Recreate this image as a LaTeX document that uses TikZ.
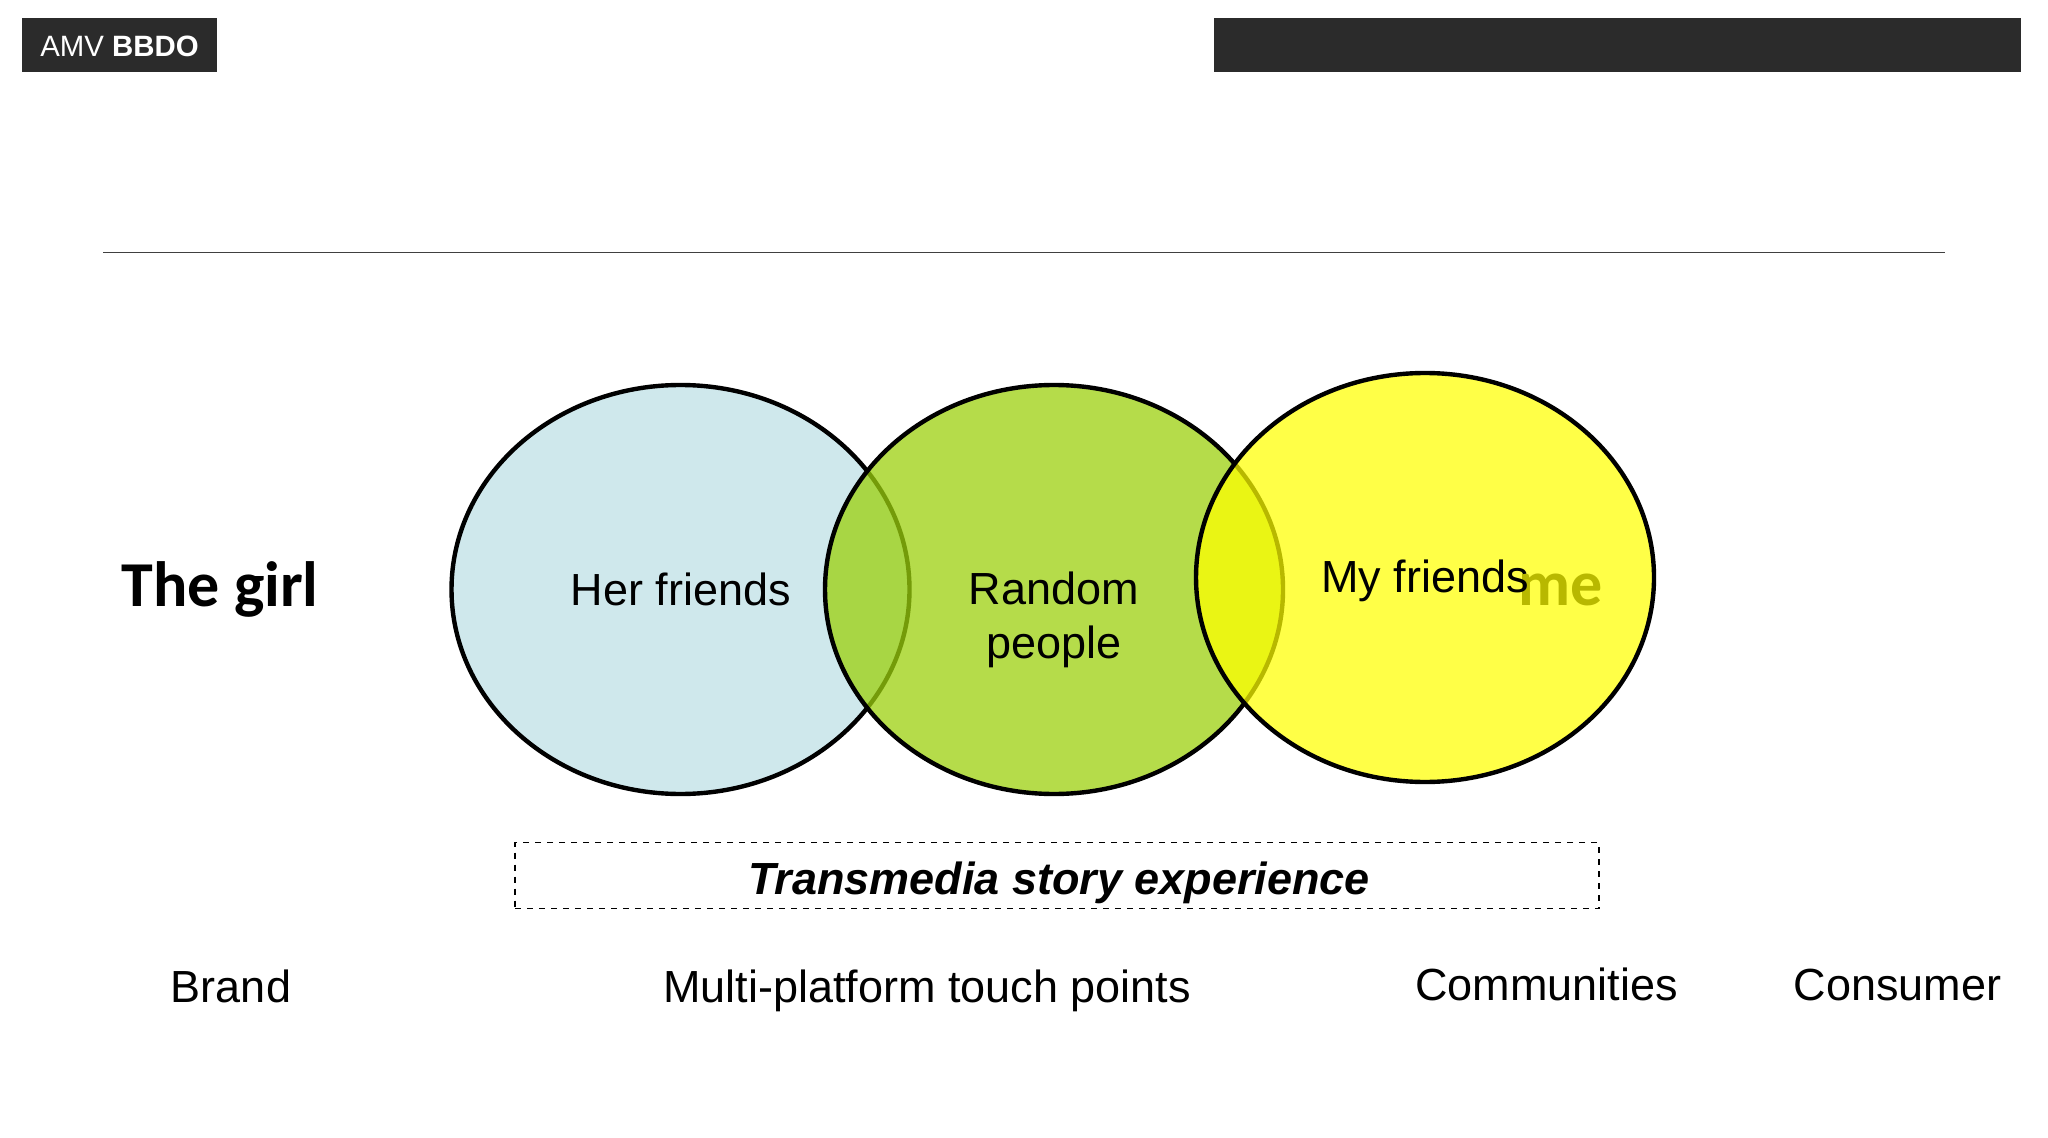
\documentclass[tikz,border=0pt]{standalone}
\usepackage{fontspec}
\usepackage{xcolor}
\usetikzlibrary{shapes.geometric}
\setmainfont{Liberation Sans}
\newfontfamily\carlitofont{Carlito}
\definecolor{barcol}{HTML}{2B2B2B}
\definecolor{herfill}{HTML}{CFE8EC}
\definecolor{randomfill}{HTML}{9CD00D}
\definecolor{myfill}{HTML}{FFFF00}
\newcommand{\sz}[1]{\fontsize{#1}{27}\selectfont}
\begin{document}
\begin{tikzpicture}[x=0.5pt, y=-0.5pt, thick,
    venn/.style = {draw=black, ellipse, line width=2.2pt, inner sep=0pt, minimum width=229pt, minimum height=204.5pt},
    bar/.style = {fill=barcol, inner sep=0pt, minimum height=27pt},
    label/.style = {inner sep=0pt, font=\sz{22.5}}]

    \useasboundingbox (0,0) rectangle (2048,1138);

    \node[bar, minimum width=97.5pt] (logo) at (119.5,45) {};
    \node[text=white, inner sep=0pt, font=\sz{14.7}] (logotext) at (119.5,46) {AMV \textbf{BBDO}};
    \node[bar, minimum width=403.5pt] (blackbar) at (1617,45) {};

    \coordinate (ruleL) at (103,252.5);
    \coordinate (ruleR) at (1945,252.5);
    \draw[line width=0.5pt, black!75] (ruleL) -- (ruleR);

    \node[label, font=\carlitofont\bfseries\sz{32}] (girl) at (220,589) {The girl};

    \node[venn, fill=herfill] (1) at (680.5,589.5) {};
    \node[label] (her) at (681,589) {Her friends};
    \node[venn, fill=randomfill, fill opacity=0.75] (2) at (1054,589.5) {};
    \node[label, align=center] (random) at (1054,620) {Random\\people};
    \node[inner sep=0pt, font=\carlitofont\bfseries\sz{32}] (me) at (1561,590) {me};
    \node[venn, fill=myfill, fill opacity=0.72] (3) at (1425,577.5) {};
    \node[label] (my) at (1425,581) {My friends};

    \node[draw=black, dashed, line width=0.6pt, minimum width=542pt, minimum height=33pt] (box) at (1057,875.5) {};
    \node[label, font=\bfseries\itshape\sz{22.5}] (story) at (1059,883) {Transmedia story experience};

    \node[label, anchor=base] (brand) at (231,1002) {Brand};
    \node[label, anchor=base] (touch) at (927,1002) {Multi-platform touch points};
    \node[label, anchor=base] (comm) at (1546.5,1000.5) {Communities};
    \node[label, anchor=base] (cons) at (1897.5,1000.5) {Consumer};

\end{tikzpicture}
\end{document}
